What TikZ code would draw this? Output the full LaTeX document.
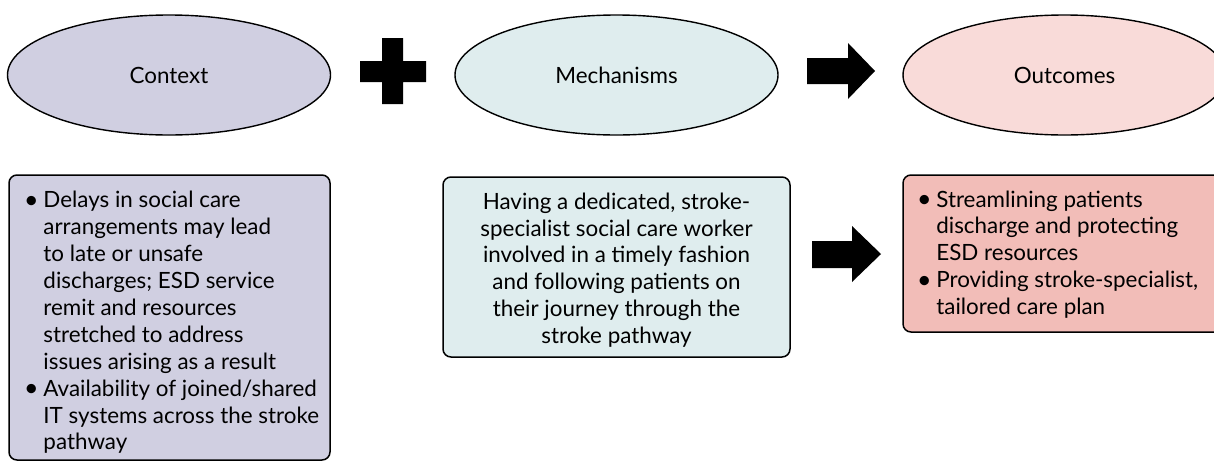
\documentclass[tikz,border=0pt]{standalone}
\usepackage{fontspec}
\setmainfont{Lato}
\usetikzlibrary{shapes.geometric}
\definecolor{ctxfill}{RGB}{208,207,225}
\definecolor{mechfill}{RGB}{223,237,238}
\definecolor{outellfill}{RGB}{249,219,217}
\definecolor{outboxfill}{RGB}{242,189,184}
\newcommand{\bul}{\makebox[17.5pt][l]{\makebox[11pt][c]{\raisebox{-0.3pt}{\fontsize{25}{25}\selectfont\textbullet}}}}
\newcommand{\ind}{\hspace*{17.5pt}}
\begin{document}
\begin{tikzpicture}[x=1pt,y=-1pt,
  txt/.style={font=\fontsize{22.4}{26.9}\selectfont},
  ell/.style={ellipse, draw, line width=1.4pt, minimum width=323pt, minimum height=120pt, inner sep=0pt, txt},
  box/.style={draw, line width=1.5pt, rounded corners=8pt, inner sep=0pt},
  boxtext/.style={inner sep=0pt, txt},
  blk/.style={fill=black, draw=none}]
\useasboundingbox (0,0) rectangle (1214,461);

\node[ell, fill=ctxfill] (ctx) at (169,75) {Context};
\node[ell, fill=mechfill] (mech) at (616.5,75) {Mechanisms};
\node[ell, fill=outellfill] (out) at (1064.5,75) {Outcomes};

% plus sign
\path[blk] (382,38) -- (403,38) -- (403,61) -- (426,61) -- (426,82) -- (403,82) -- (403,104)
  -- (382,104) -- (382,82) -- (360,82) -- (360,61) -- (382,61) -- cycle;
% block arrow (top)
\path[blk] (807,58) -- (848,58) -- (848,43) -- (875,71) -- (848,99) -- (848,84) -- (807,84) -- cycle;

\node[box, fill=ctxfill, minimum width=321pt, minimum height=285pt] (ctxbox) at (169.5,317.5) {};
\node[boxtext] (ctxtext) at ([xshift=3pt,yshift=-6pt]ctxbox.center)
{\begin{tabular}{@{}l@{}}
\bul Delays in social care\\
\ind arrangements may lead\\
\ind to late or unsafe\\
\ind discharges; ESD service\\
\ind remit and resources\\
\ind stretched to address\\
\ind issues arising as a result\\
\bul Availability of joined/shared\\
\ind IT systems across the stroke\\
\ind pathway
\end{tabular}};

\node[box, fill=mechfill, minimum width=347pt, minimum height=180pt] (mechbox) at (616.5,267) {};
\node[boxtext] (mechtext) at ([yshift=-4pt]mechbox.center)
{\begin{tabular}{@{}c@{}}
Having a dedicated, stroke-\\
specialist social care worker\\
involved in a timely fashion\\
and following patients on\\
their journey through the\\
stroke pathway
\end{tabular}};

% block arrow (bottom)
\path[blk] (812,241) -- (852,241) -- (852,226) -- (881,254) -- (852,282) -- (852,268) -- (812,268) -- cycle;

\node[box, fill=outboxfill, minimum width=321pt, minimum height=157pt] (outbox) at (1063.5,253.5) {};
\node[boxtext] (outtext) at ([xshift=-5pt,yshift=-2pt]outbox.center)
{\begin{tabular}{@{}l@{}}
\bul Streamlining patients\\
\ind discharge and protecting\\
\ind ESD resources\\
\bul Providing stroke-specialist,\\
\ind tailored care plan
\end{tabular}};
\end{tikzpicture}
\end{document}
